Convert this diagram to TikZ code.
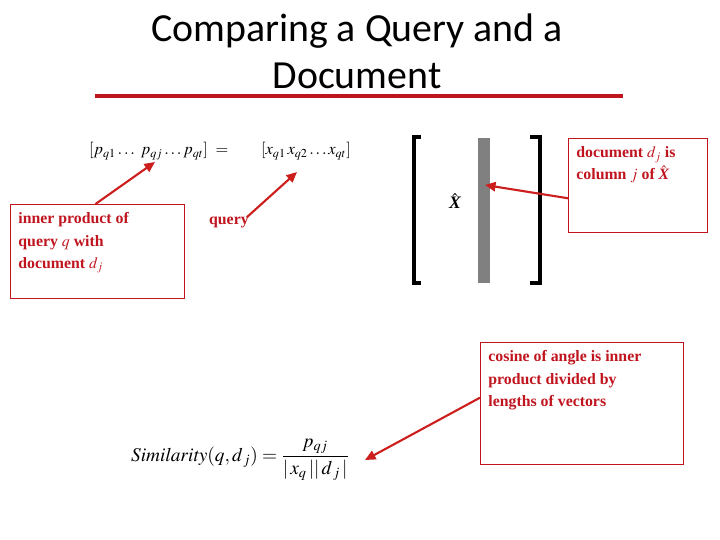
\documentclass[tikz,border=0pt]{standalone}
\usepackage{mathptmx}
\usepackage{fontspec}
\setmainfont{Liberation Serif}
\newfontfamily\titlefont{Carlito}
\usetikzlibrary{calc,arrows.meta}
\definecolor{notered}{RGB}{192,20,30}
\definecolor{arrowred}{RGB}{205,30,30}
\definecolor{bargray}{RGB}{128,128,128}
\tikzset{
    % Red note boxes and the red arrows that leave them
    note box/.style={draw=notered,line width=0.8pt,anchor=north west,inner xsep=6.8pt,inner ysep=7pt,font=\fontsize{13.5}{19}\selectfont\bfseries,text=notered}, pointer/.style={draw=arrowred,line width=1.8pt,-{Triangle[length=9pt,width=8pt]}}
    }

\begin{document}
\begin{tikzpicture}[x=0.03cm,y=-0.03cm] % one unit is one pixel of the slide
        \useasboundingbox (0,0) rectangle (720,540);
        % Title
        \node(title)[align=center,font=\titlefont\fontsize{34}{40}\selectfont] at (357,51) {Comparing a Query and a\\Document};
        \draw[notered,line width=2.6pt] (95,96) -- (623,96);
        % vectors
        \node(pvec)[anchor=base west,font=\fontsize{14}{17}\selectfont] at (85,155) {$[p_{q1} \dots\ p_{qj} \dots p_{qt}]\ =$};
        \node(xvec)[anchor=base west,font=\fontsize{14}{17}\selectfont] at (257,155) {$[x_{q1}\, x_{q2} \dots x_{qt}]$};
        % the matrix
        \draw[line width=2.6pt] (421,137) -- (414,137) -- (414,283) -- (421,283);
        \draw[line width=2.6pt] (530,137) -- (540,137) -- (540,283) -- (530,283);
        \fill[bargray] (478,138) rectangle (490,283);
        \node(xhat)[font=\fontsize{15}{18}\selectfont\bfseries] at (455,201) {$\hat{\mbox{\itshape X}}$};
        % notes
        \node(inner)[note box] at (10,204) {\parbox[t][65.9pt][t]{135pt}{inner product of\\ query $q$ with\\ document $d_j$}};
        \node(query)[anchor=base west,font=\fontsize{13.5}{19}\selectfont\bfseries,text=notered] at (205,225) {query};
        \node(column)[note box] at (568,138) {\parbox[t][65.9pt][t]{105pt}{document $d_j$ is\\ column $j$ of $\hat{\mbox{\itshape X}}$}};
        \node(cosine)[note box] at (480,342) {\parbox[t][90.5pt][t]{160pt}{cosine of angle is inner\\ product divided by\\ lengths of vectors}};
        % formula
        \node(sim)[font=\fontsize{16.5}{20}\selectfont] at (240,460) {$\displaystyle \mathit{Similarity}(q,d_{\,j}) = \frac{p_{qj}}{|\,x_q\,||\,d_{\,j}\,|}$};
        % arrows
        \coordinate(pqj) at (155,162);
        \coordinate(xq) at (297,172);
        \coordinate(col) at (485,185);
        \coordinate(simpt) at (365,460);
        \draw[pointer] ($(inner.north)+(-2,0)$) -- (pqj);
        \draw[pointer] ($(query.north east)+(-6,4)$) -- (xq);
        \draw[pointer] ($(column.west)+(0,13)$) -- (col);
        \draw[pointer] ($(cosine.west)+(0,-6)$) -- (simpt);
    \end{tikzpicture}
\end{document}
